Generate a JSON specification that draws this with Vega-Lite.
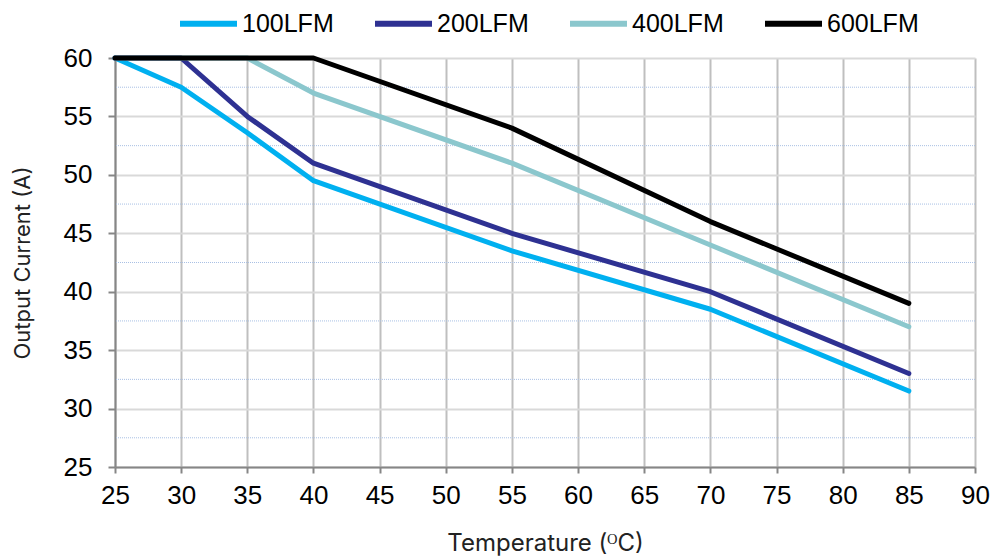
{
  "$schema": "https://vega.github.io/schema/vega-lite/v6.json",
  "width": 860,
  "height": 409,
  "autosize": {"type": "none"},
  "padding": {"left": 115, "top": 58, "right": 15, "bottom": 91},
  "config": {"view": {"stroke": null}, "font": "Liberation Sans"},
  "layer": [
    {
      "data": {"values": [{"y": 27.5}, {"y": 32.5}, {"y": 37.5}, {"y": 42.5}, {"y": 47.5}, {"y": 52.5}, {"y": 57.5}]},
      "mark": {"type": "rule", "color": "#A9C0E4", "strokeDash": [1, 1], "strokeWidth": 1},
      "encoding": {"y": {"field": "y", "type": "quantitative", "scale": {"domain": [25, 60], "nice": false},
          "axis": {"values": [25, 30, 35, 40, 45, 50, 55, 60], "grid": true, "gridColor": "#D9D9D9", "gridWidth": 2,
            "domainColor": "#868686", "domainWidth": 2, "tickColor": "#868686", "tickWidth": 2, "tickSize": 7,
            "labelFontSize": 26, "labelColor": "#000", "labelPadding": 16, "labelFont": "Liberation Sans",
            "title": "Output Current (A)", "titleFont": "Inter", "titleFontSize": 22, "titleFontWeight": "normal", "titleColor": "#222", "titlePadding": 29}}}
    },
    {
      "data": {"values": [
        {"series": "100LFM", "t": 25, "i": 60}, {"series": "100LFM", "t": 30, "i": 57.5}, {"series": "100LFM", "t": 35, "i": 53.6}, {"series": "100LFM", "t": 40, "i": 49.5}, {"series": "100LFM", "t": 55, "i": 43.5}, {"series": "100LFM", "t": 70, "i": 38.5}, {"series": "100LFM", "t": 85, "i": 31.5},
        {"series": "200LFM", "t": 25, "i": 60}, {"series": "200LFM", "t": 30, "i": 60}, {"series": "200LFM", "t": 35, "i": 55}, {"series": "200LFM", "t": 40, "i": 51}, {"series": "200LFM", "t": 55, "i": 45}, {"series": "200LFM", "t": 70, "i": 40}, {"series": "200LFM", "t": 85, "i": 33},
        {"series": "400LFM", "t": 25, "i": 60}, {"series": "400LFM", "t": 35, "i": 60}, {"series": "400LFM", "t": 40, "i": 57}, {"series": "400LFM", "t": 55, "i": 51}, {"series": "400LFM", "t": 70, "i": 44}, {"series": "400LFM", "t": 85, "i": 37},
        {"series": "600LFM", "t": 25, "i": 60}, {"series": "600LFM", "t": 40, "i": 60}, {"series": "600LFM", "t": 55, "i": 54}, {"series": "600LFM", "t": 70, "i": 46}, {"series": "600LFM", "t": 85, "i": 39}
      ]},
      "mark": {"type": "line", "strokeWidth": 5, "strokeCap": "round", "strokeJoin": "round"},
      "encoding": {
        "x": {"field": "t", "type": "quantitative", "scale": {"domain": [25, 90], "nice": false},
          "axis": {"values": [25, 30, 35, 40, 45, 50, 55, 60, 65, 70, 75, 80, 85, 90], "grid": true, "gridColor": "#BFBFBF", "gridWidth": 2,
            "domainColor": "#868686", "domainWidth": 2, "tickColor": "#868686", "tickWidth": 2, "tickSize": 6,
            "labelFontSize": 26, "labelColor": "#000", "labelPadding": 9, "labelFont": "Liberation Sans", "labelFlush": false, "labelOverlap": false,
            "title": "Temperature (ᴼC)", "titleFont": "Inter", "titleFontSize": 24, "titleFontWeight": "normal", "titleColor": "#222", "titlePadding": 23}},
        "y": {"field": "i", "type": "quantitative", "scale": {"domain": [25, 60], "nice": false},
          "axis": {"values": [25, 30, 35, 40, 45, 50, 55, 60], "grid": true, "gridColor": "#D9D9D9", "gridWidth": 2,
            "domainColor": "#868686", "domainWidth": 2, "tickColor": "#868686", "tickWidth": 2, "tickSize": 7,
            "labelFontSize": 26, "labelColor": "#000", "labelPadding": 16, "labelFont": "Liberation Sans",
            "title": "Output Current (A)", "titleFont": "Inter", "titleFontSize": 22, "titleFontWeight": "normal", "titleColor": "#222", "titlePadding": 29}},
        "color": {"field": "series", "type": "nominal",
          "scale": {"domain": ["100LFM", "200LFM", "400LFM", "600LFM"], "range": ["#00B0F0", "#2E3192", "#8BC7CD", "#000000"]},
          "legend": {"orient": "none", "legendX": 62, "legendY": -66, "direction": "horizontal", "title": null,
            "symbolType": "stroke", "symbolStrokeWidth": 6, "symbolSize": 3249, "labelFont": "Liberation Sans",
            "labelFontSize": 25, "labelFontWeight": "normal", "labelColor": "#000", "labelOffset": 2, "columnPadding": 29}}
      }
    }
  ]
}
